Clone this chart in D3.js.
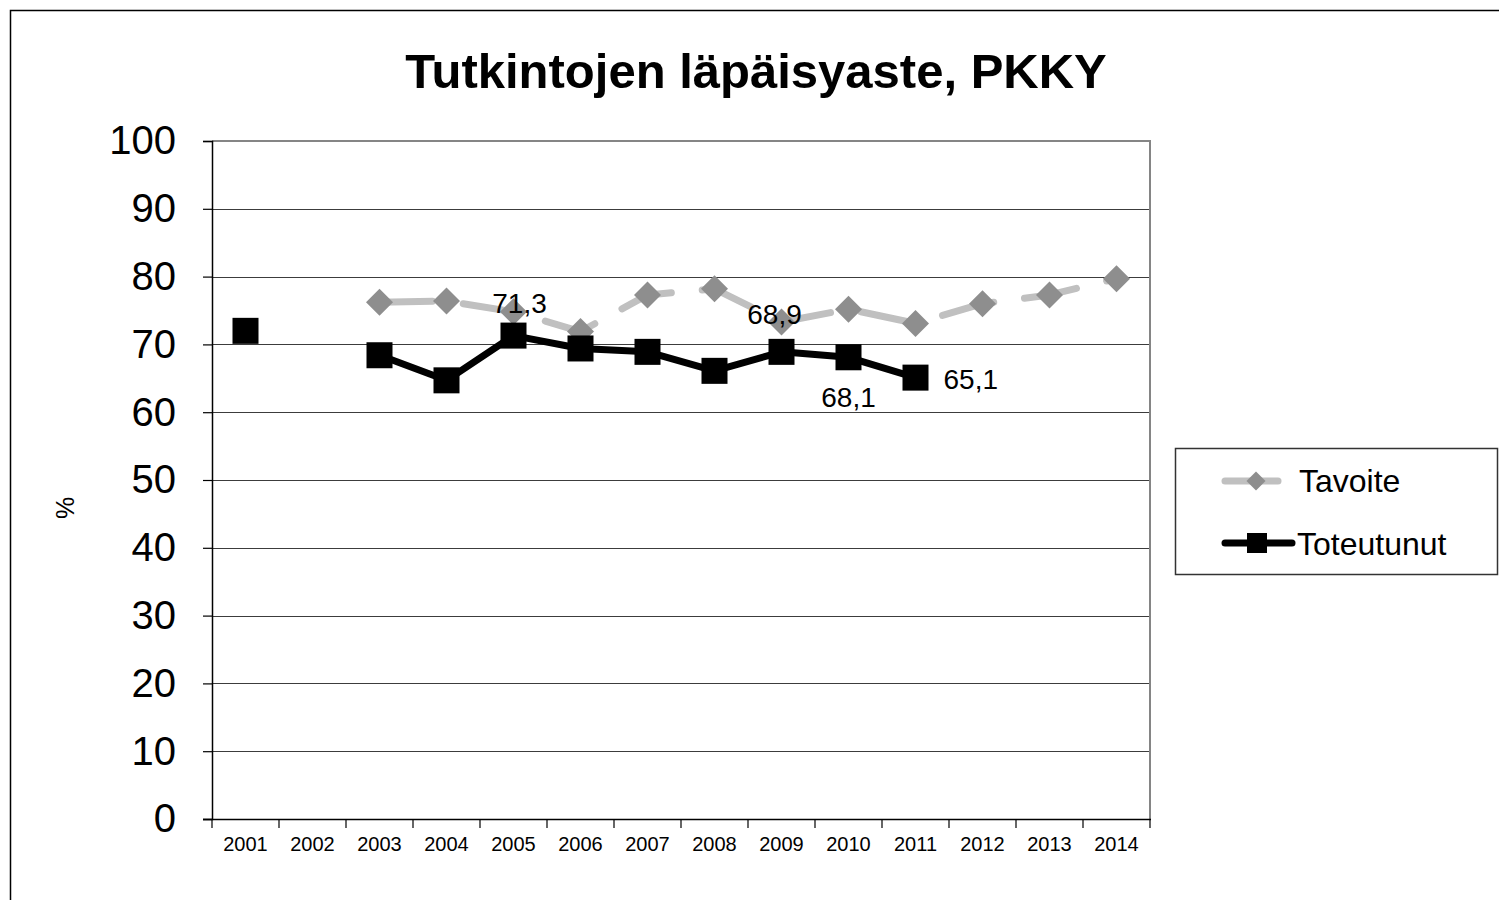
<!DOCTYPE html>
<html>
<head>
<meta charset="utf-8">
<script src="https://cdn.jsdelivr.net/npm/d3@7"></script>
<style>
  html, body { margin: 0; padding: 0; background: #fff; }
  svg { display: block; font-family: "Liberation Sans", Arial, sans-serif; }
</style>
</head>
<body>
<svg id="chart" width="1499" height="900"></svg>
<script>
const years = ["2001","2002","2003","2004","2005","2006","2007","2008","2009","2010","2011","2012","2013","2014"];
const tavoite = [null, null, 76.2, 76.4, 74.8, 71.9, 77.3, 78.2, 73.3, 75.2, 73.1, 76.0, 77.3, 79.7];
const toteutunut = [72.0, null, 68.4, 64.7, 71.3, 69.4, 68.9, 66.1, 68.9, 68.1, 65.1, null, null, null];
const yTicks = [0, 10, 20, 30, 40, 50, 60, 70, 80, 90, 100];
const title = "Tutkintojen läpäisyaste, PKKY";
const yLabel = "%";
const seriesNames = ["Tavoite", "Toteutunut"];
// years of the Toteutunut series that carry a value label
const labelledYears = ["2005", "2009", "2010", "2011"];

const svg = d3.select("#chart");
const M = { left: 212, right: 1150, top: 141, bottom: 819 };

// outer chart border (left & top visible)
svg.append("rect").attr("x", 10.5).attr("y", 10.5).attr("width", 1700).attr("height", 1000)
  .attr("fill", "none").attr("stroke", "#000").attr("stroke-width", 1.5);

const x = d3.scaleBand().domain(years).range([M.left, M.right]).padding(0);
const y = d3.scaleLinear().domain([0, 100]).range([M.bottom, M.top]);
const cx = d => x(d) + x.bandwidth() / 2;

// title
svg.append("text").attr("x", 756).attr("y", 88).attr("text-anchor", "middle")
  .attr("font-size", 49).attr("font-weight", "bold").attr("fill", "#000").text(title);

// gridlines
svg.append("g").selectAll("line").data(yTicks.filter(d => d > 0 && d < 100)).join("line")
  .attr("x1", M.left).attr("x2", M.right)
  .attr("y1", d => Math.round(y(d)) + 0.5).attr("y2", d => Math.round(y(d)) + 0.5)
  .attr("stroke", "#3c3c3c").attr("stroke-width", 1.2);

// plot border top & right
svg.append("path")
  .attr("d", `M${M.left},${y(100)}H${M.right}V${M.bottom}`)
  .attr("fill", "none").attr("stroke", "#858585").attr("stroke-width", 2);

// y axis
const yAxis = svg.append("g").attr("transform", `translate(${M.left},0)`)
  .call(d3.axisLeft(y).tickValues(yTicks).tickSize(9).tickPadding(27).tickFormat(d3.format("d")));
yAxis.select(".domain").attr("stroke", "#000").attr("stroke-width", 1.5);
yAxis.selectAll(".tick line").attr("stroke", "#000").attr("stroke-width", 1.2);
yAxis.selectAll(".tick text").attr("font-size", 40).attr("fill", "#000")
  .attr("font-family", "'Liberation Sans', Arial, sans-serif");

// x axis labels
const xAxis = svg.append("g").attr("transform", `translate(0,${M.bottom})`)
  .call(d3.axisBottom(x).tickSize(0).tickPadding(18));
xAxis.select(".domain").remove();
xAxis.selectAll(".tick text").attr("font-size", 20).attr("fill", "#000")
  .attr("font-family", "'Liberation Sans', Arial, sans-serif");
svg.append("line").attr("x1", M.left - 9).attr("x2", M.right + 1)
  .attr("y1", M.bottom + 0.5).attr("y2", M.bottom + 0.5)
  .attr("stroke", "#000").attr("stroke-width", 1.5);
svg.append("g").selectAll("line").data(years.map(d => x(d)).concat([M.right])).join("line")
  .attr("x1", d => d).attr("x2", d => d)
  .attr("y1", M.bottom).attr("y2", M.bottom + 9)
  .attr("stroke", "#000").attr("stroke-width", 1.2);

// y label
svg.append("text").attr("transform", "translate(74,508) rotate(-90)")
  .attr("text-anchor", "middle").attr("font-size", 25).attr("fill", "#000").text(yLabel);

// series
const tavData = years.map((d, i) => ({ year: d, v: tavoite[i] }));
const totData = years.map((d, i) => ({ year: d, v: toteutunut[i] }));
const line = d3.line().defined(d => d.v != null).x(d => cx(d.year)).y(d => y(d.v));

svg.append("path").datum(tavData).attr("d", line)
  .attr("fill", "none").attr("stroke", "#c0c0c0").attr("stroke-width", 7)
  .attr("stroke-linecap", "round").attr("stroke-linejoin", "round")
  .attr("stroke-dasharray", "53,31");

const diamond = (s) => `M0,${-s}L${s},0L0,${s}L${-s},0Z`;
svg.append("g").selectAll("path").data(tavData.filter(d => d.v != null)).join("path")
  .attr("transform", d => `translate(${cx(d.year)},${y(d.v)})`)
  .attr("d", diamond(13.5)).attr("fill", "#8e8e8e");

svg.append("path").datum(totData).attr("d", line)
  .attr("fill", "none").attr("stroke", "#000").attr("stroke-width", 7)
  .attr("stroke-linejoin", "round");

svg.append("g").selectAll("rect").data(totData.filter(d => d.v != null)).join("rect")
  .attr("x", d => cx(d.year) - 13).attr("y", d => y(d.v) - 13)
  .attr("width", 26).attr("height", 26).attr("fill", "#000");

// data labels (placement offsets relative to the point)
const labelPlacement = {
  "2005": { dx: 6, dy: -23, anchor: "middle" },
  "2009": { dx: -7, dy: -28, anchor: "middle" },
  "2010": { dx: 0, dy: 50, anchor: "middle" },
  "2011": { dx: 28, dy: 11, anchor: "start" }
};
const fmt = v => v.toFixed(1).replace(".", ",");
labelledYears.forEach(yr => {
  const v = toteutunut[years.indexOf(yr)];
  const p = labelPlacement[yr];
  svg.append("text").attr("x", cx(yr) + p.dx).attr("y", y(v) + p.dy).attr("text-anchor", p.anchor)
    .attr("font-size", 28).attr("fill", "#000").text(fmt(v));
});

// legend
const lg = svg.append("g");
lg.append("rect").attr("x", 1175.5).attr("y", 448.5).attr("width", 322).attr("height", 126)
  .attr("fill", "#fff").attr("stroke", "#333").attr("stroke-width", 1.5);
lg.append("line").attr("x1", 1225).attr("x2", 1278).attr("y1", 481).attr("y2", 481)
  .attr("stroke", "#c0c0c0").attr("stroke-width", 7).attr("stroke-linecap", "round");
lg.append("path").attr("transform", "translate(1256,481)").attr("d", diamond(9.5)).attr("fill", "#8e8e8e");
lg.append("text").attr("x", 1299).attr("y", 492).attr("font-size", 32).attr("fill", "#000").text(seriesNames[0]);
lg.append("line").attr("x1", 1225).attr("x2", 1292).attr("y1", 543).attr("y2", 543)
  .attr("stroke", "#000").attr("stroke-width", 7).attr("stroke-linecap", "round");
lg.append("rect").attr("x", 1247).attr("y", 533).attr("width", 20).attr("height", 20).attr("fill", "#000");
lg.append("text").attr("x", 1297).attr("y", 555).attr("font-size", 32).attr("fill", "#000").text(seriesNames[1]);
</script>
</body>
</html>
